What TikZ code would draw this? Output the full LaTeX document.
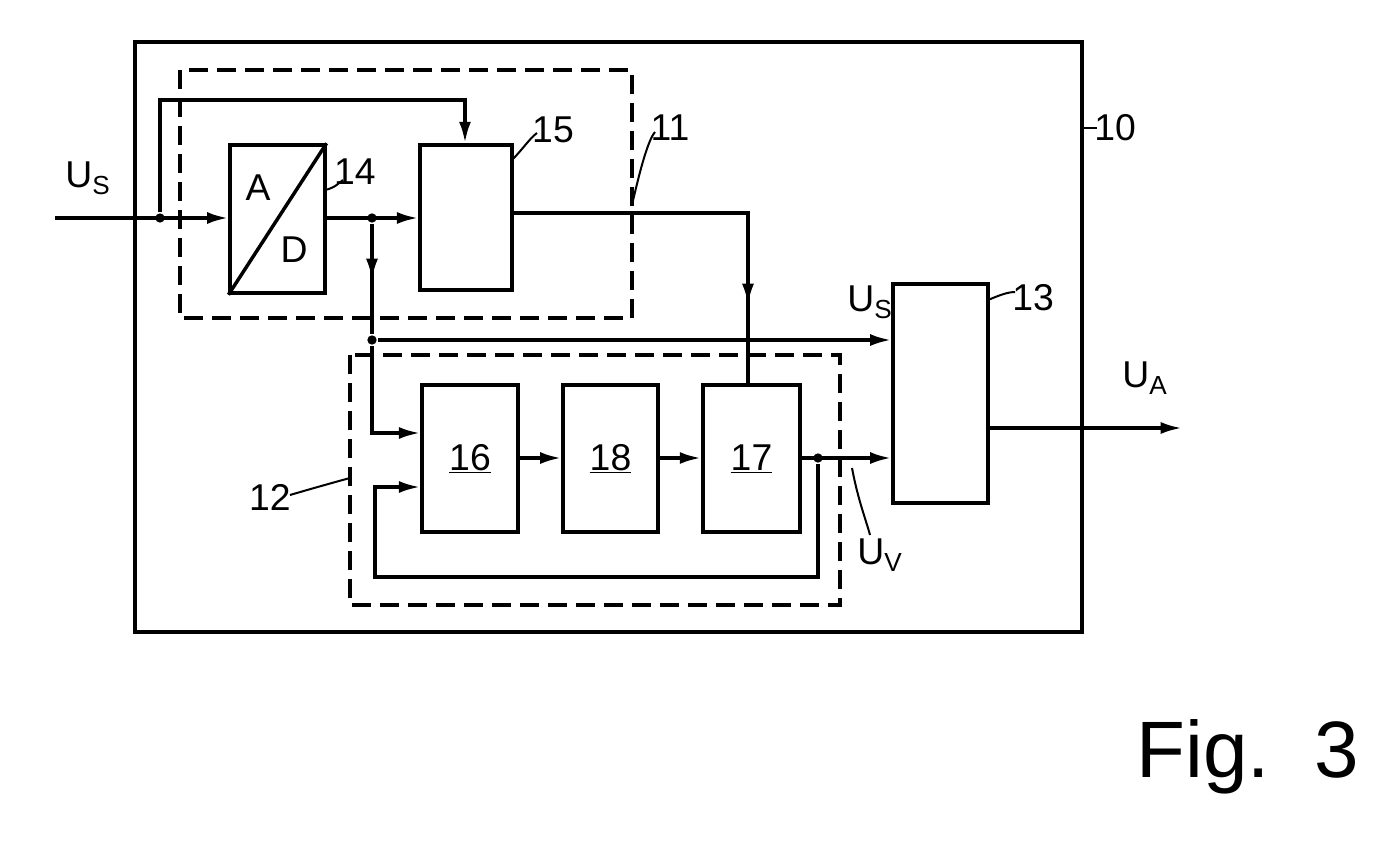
\documentclass[tikz,border=0pt]{standalone}
\usepackage{fontspec}
\setmainfont{Liberation Sans}
\usetikzlibrary{arrows.meta}
\begin{document}
\begin{tikzpicture}[x=0.75pt,y=-0.75pt,line width=2.6pt,
  box/.style={draw,line width=2.6pt},
  dashbox/.style={draw,line width=2.8pt,dash pattern=on 14pt off 7pt},
  arr/.style={-{Latex[length=16pt,width=9pt]}},
  lbl/.style={font=\fontsize{28}{30}\selectfont,inner sep=0pt},
  dot/.style={circle,fill,inner sep=0pt,minimum size=7pt}]
\useasboundingbox (0,0) rectangle (1395,846);
\draw (135,42) rectangle (1082,632);
\draw[dashbox] (180,70) rectangle (632,318);
\draw[dashbox] (350,355) rectangle (840,605);
\node[box,minimum width=71pt,minimum height=111pt,inner sep=0pt] (ad) at (277.5,219) {};
\draw (ad.south west) -- (ad.north east);
\node[lbl] at (258,188) {A};
\node[lbl] at (294,250) {D};
\node[box,minimum width=69pt,minimum height=109pt] (b15) at (466,217.5) {};
\node[box,minimum width=71pt,minimum height=164pt] (b13) at (940.5,393.5) {};
\node[box,minimum width=72pt,minimum height=110pt] (b16) at (470,458.5) {};
\node[box,minimum width=71pt,minimum height=110pt] (b18) at (610.5,458.5) {};
\node[box,minimum width=73pt,minimum height=110pt] (b17) at (751.5,458.5) {};
\node[lbl] at (b16.center) {\underline{16}};
\node[lbl] at (b18.center) {\underline{18}};
\node[lbl] at (b17.center) {\underline{17}};
% input
\coordinate (in) at (55,218);
\node[dot] (j1) at (160,218) {};
\draw[arr] (in) -- (ad.west |- 0,218);
\draw[arr] (j1) -- (160,100) -- (465,100) -- (b15.north -| 465,0);
\node[dot] (j2) at (372,218) {};
\draw[arr] (ad.east |- 0,218) -- (b15.west |- 0,218);
\draw[arr] (j2) -- (372,280);
\node[dot] (j3) at (372,340) {};
\draw (372,270) -- (j3);
\draw[arr] (j3) -- (b13.west |- 0,340);
\draw[arr] (j3) -- (372,433) -- (b16.west |- 0,433);
% 15 to 17
\draw[arr] (b15.east |- 0,213) -- (748,213) -- (748,305);
\draw (748,295) -- (b17.north -| 748,0);
\draw[arr] (b16.east |- 0,458) -- (b18.west |- 0,458);
\draw[arr] (b18.east |- 0,458) -- (b17.west |- 0,458);
\node[dot] (j4) at (818,458) {};
\draw[arr] (b17.east |- 0,458) -- (b13.west |- 0,458);
\draw[arr] (j4) -- (818,577) -- (375,577) -- (375,487) -- (b16.west |- 0,487);
\coordinate (out) at (1182,428);
\draw[arr] (b13.east |- 0,428) -- (out);
% labels
\node[lbl] at (88,178) {U\textsubscript{S}};
\node[lbl] at (870,302) {U\textsubscript{S}};
\node[lbl] at (1145,378) {U\textsubscript{A}};
\node[lbl] at (880,555) {U\textsubscript{V}};
\draw[line width=1.5pt] (852,468) .. controls (858,500) and (866,520) .. (870,535);
\node[lbl] (l14) at (355,172) {14};
\draw[line width=1.5pt] (325,190) .. controls (335,188) and (340,182) .. (343,180);
\node[lbl] (l15) at (553,130) {15};
\draw[line width=1.5pt] (512,160) .. controls (522,150) and (530,138) .. (537,133);
\node[lbl] (l11) at (670,128) {11};
\draw[line width=1.5pt] (632,205) .. controls (640,170) and (648,140) .. (655,132);
\node[lbl] (l10) at (1115,128) {10};
\draw[line width=1.5pt] (1082,128) -- (1097,128);
\node[lbl] (l13) at (1033,298) {13};
\draw[line width=1.5pt] (988,300) .. controls (1000,295) and (1008,292) .. (1015,292);
\node[lbl] (l12) at (270,497) {12};
\draw[line width=1.5pt] (350,478) .. controls (335,482) and (300,492) .. (290,495);
\node[font=\fontsize{60}{64}\selectfont,inner sep=0pt] at (1248,757) {Fig.~~3};
\end{tikzpicture}
\end{document}
